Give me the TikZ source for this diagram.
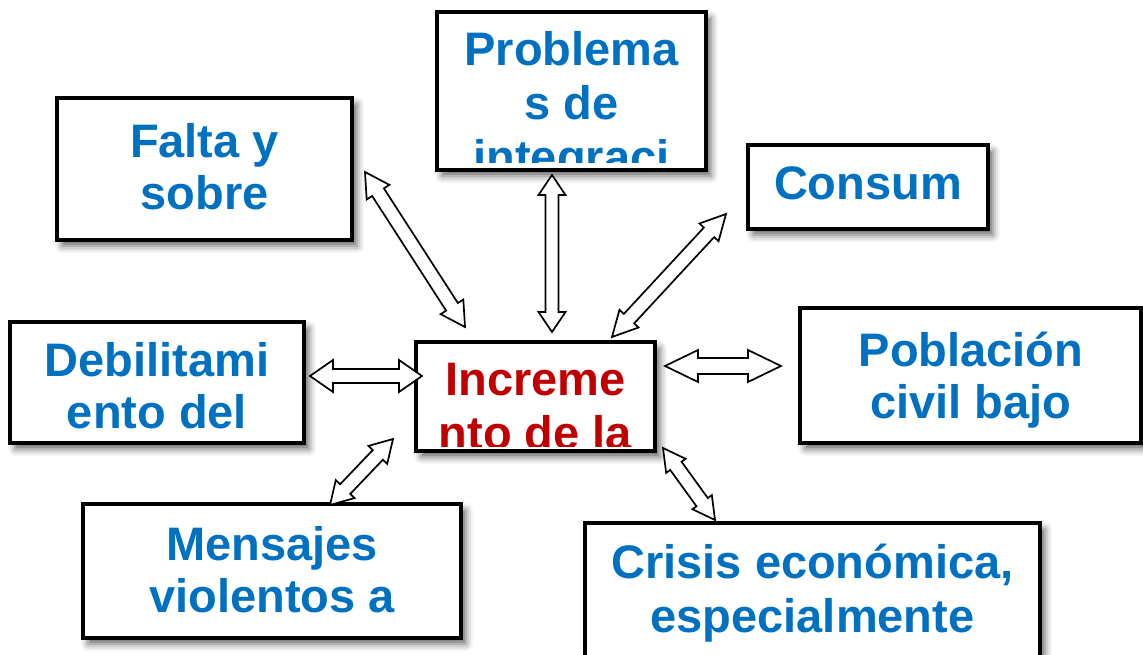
\documentclass[tikz,border=0pt]{standalone}
\usepackage{fontspec}
\setmainfont{Liberation Sans}
\usetikzlibrary{calc,shadows.blur}
\definecolor{txtblue}{HTML}{0070C0}
\definecolor{txtred}{HTML}{C00000}
\tikzset{
  box/.style={draw=black, line width=3.5pt, fill=white, rectangle, inner sep=0pt,
    blur shadow={shadow xshift=5pt, shadow yshift=-6pt, shadow blur radius=7pt, shadow opacity=60}},
  lbl/.style={anchor=base, inner sep=0pt, font=\fontsize{47}{53}\selectfont\bfseries, text=txtblue},
  lblred/.style={lbl, text=txtred},
  blockarr/.style={draw=black, fill=white, line width=1.7pt, line join=miter},
}
% #1 tip A, #2 tip B, #3 shaft half width, #4 head half width, #5 head length
\newcommand\dblarr[5]{%
  \draw[blockarr] (#1)
    -- ($(#1)!#5!(#2)!#4!90:(#2)$) -- ($(#1)!#5!(#2)!#3!90:(#2)$)
    -- ($(#2)!#5!(#1)!#3!-90:(#1)$) -- ($(#2)!#5!(#1)!#4!-90:(#1)$)
    -- (#2)
    -- ($(#2)!#5!(#1)!#4!90:(#1)$) -- ($(#2)!#5!(#1)!#3!90:(#1)$)
    -- ($(#1)!#5!(#2)!#3!-90:(#2)$) -- ($(#1)!#5!(#2)!#4!-90:(#2)$)
    -- cycle;}
\begin{document}
\begin{tikzpicture}[x=1pt,y=-1pt]
\useasboundingbox (0,0) rectangle (1143,655);

% boxes
\node[box, minimum width=295pt, minimum height=142pt] (falta) at (204.5,169) {};
\node[box, minimum width=269pt, minimum height=158pt] (problemas) at (571.5,91) {};
\node[box, minimum width=240pt, minimum height=84pt] (consum) at (868,187) {};
\node[box, minimum width=294pt, minimum height=121pt] (debil) at (157,382.5) {};
\node[box, minimum width=239pt, minimum height=109pt] (increm) at (535.5,396.5) {};
\node[box, minimum width=341pt, minimum height=135pt] (poblac) at (970.5,375.5) {};
\node[box, minimum width=378pt, minimum height=134pt] (mensaj) at (272,571) {};
\node[box, minimum width=455pt, minimum height=177pt] (crisis) at (812.5,611.5) {};

% texts
\node[lbl] (falta1) at (204.5,158) {Falta y};
\node[lbl] (falta2) at (204.5,210) {sobre};

\begin{scope}
  \clip ($(problemas.north west)+(6,6)$) rectangle ($(problemas.south east)+(-6,-9)$);
  \node[lbl] (probl1) at (571.5,66) {Problema};
  \node[lbl] (probl2) at (571.5,120) {s de};
  \node[lbl] (probl3) at (571.5,174) {integraci};
\end{scope}

\node[lbl] (consum1) at (868,200) {Consum};

\node[lbl] (debil1) at (157,376) {Debilitami};
\node[lbl] (debil2) at (157,428) {ento del};

\begin{scope}
  \clip ($(increm.north west)+(6,6)$) rectangle ($(increm.south east)+(-6,-6)$);
  \node[lblred] (increm1) at (535.5,395) {Increme};
  \node[lblred] (increm2) at (535.5,449) {nto de la};
\end{scope}

\node[lbl] (poblac1) at (971,366) {Población};
\node[lbl] (poblac2) at (971,418) {civil bajo};

\node[lbl] (mensaj1) at (272,560) {Mensajes};
\node[lbl] (mensaj2) at (272,612) {violentos a};

\node[lbl] (crisis1) at (812.5,578) {Crisis económica,};
\node[lbl] (crisis2) at (812.5,632) {especialmente};

% arrow tips
\coordinate (a1s) at (365,172);  \coordinate (a1e) at (465,327);
\coordinate (a2s) at (552,175);  \coordinate (a2e) at (552,332);
\coordinate (a3s) at (726,214);  \coordinate (a3e) at (612,337);
\coordinate (a4s) at (310,376);  \coordinate (a4e) at (422,376);
\coordinate (a5s) at (665,366);  \coordinate (a5e) at (781,366);
\coordinate (a6s) at (330,505);  \coordinate (a6e) at (393,439);
\coordinate (a7s) at (663,448);  \coordinate (a7e) at (715,520);

\dblarr{a1s}{a1e}{7pt}{13.5pt}{24pt}
\dblarr{a2s}{a2e}{6.5pt}{13.5pt}{20pt}
\dblarr{a3s}{a3e}{7pt}{13pt}{25pt}
\dblarr{a4s}{a4e}{7pt}{16pt}{23pt}
\dblarr{a5s}{a5e}{8pt}{16pt}{33pt}
\dblarr{a6s}{a6e}{7pt}{13pt}{22pt}
\dblarr{a7s}{a7e}{7pt}{12pt}{22pt}
\end{tikzpicture}
\end{document}
